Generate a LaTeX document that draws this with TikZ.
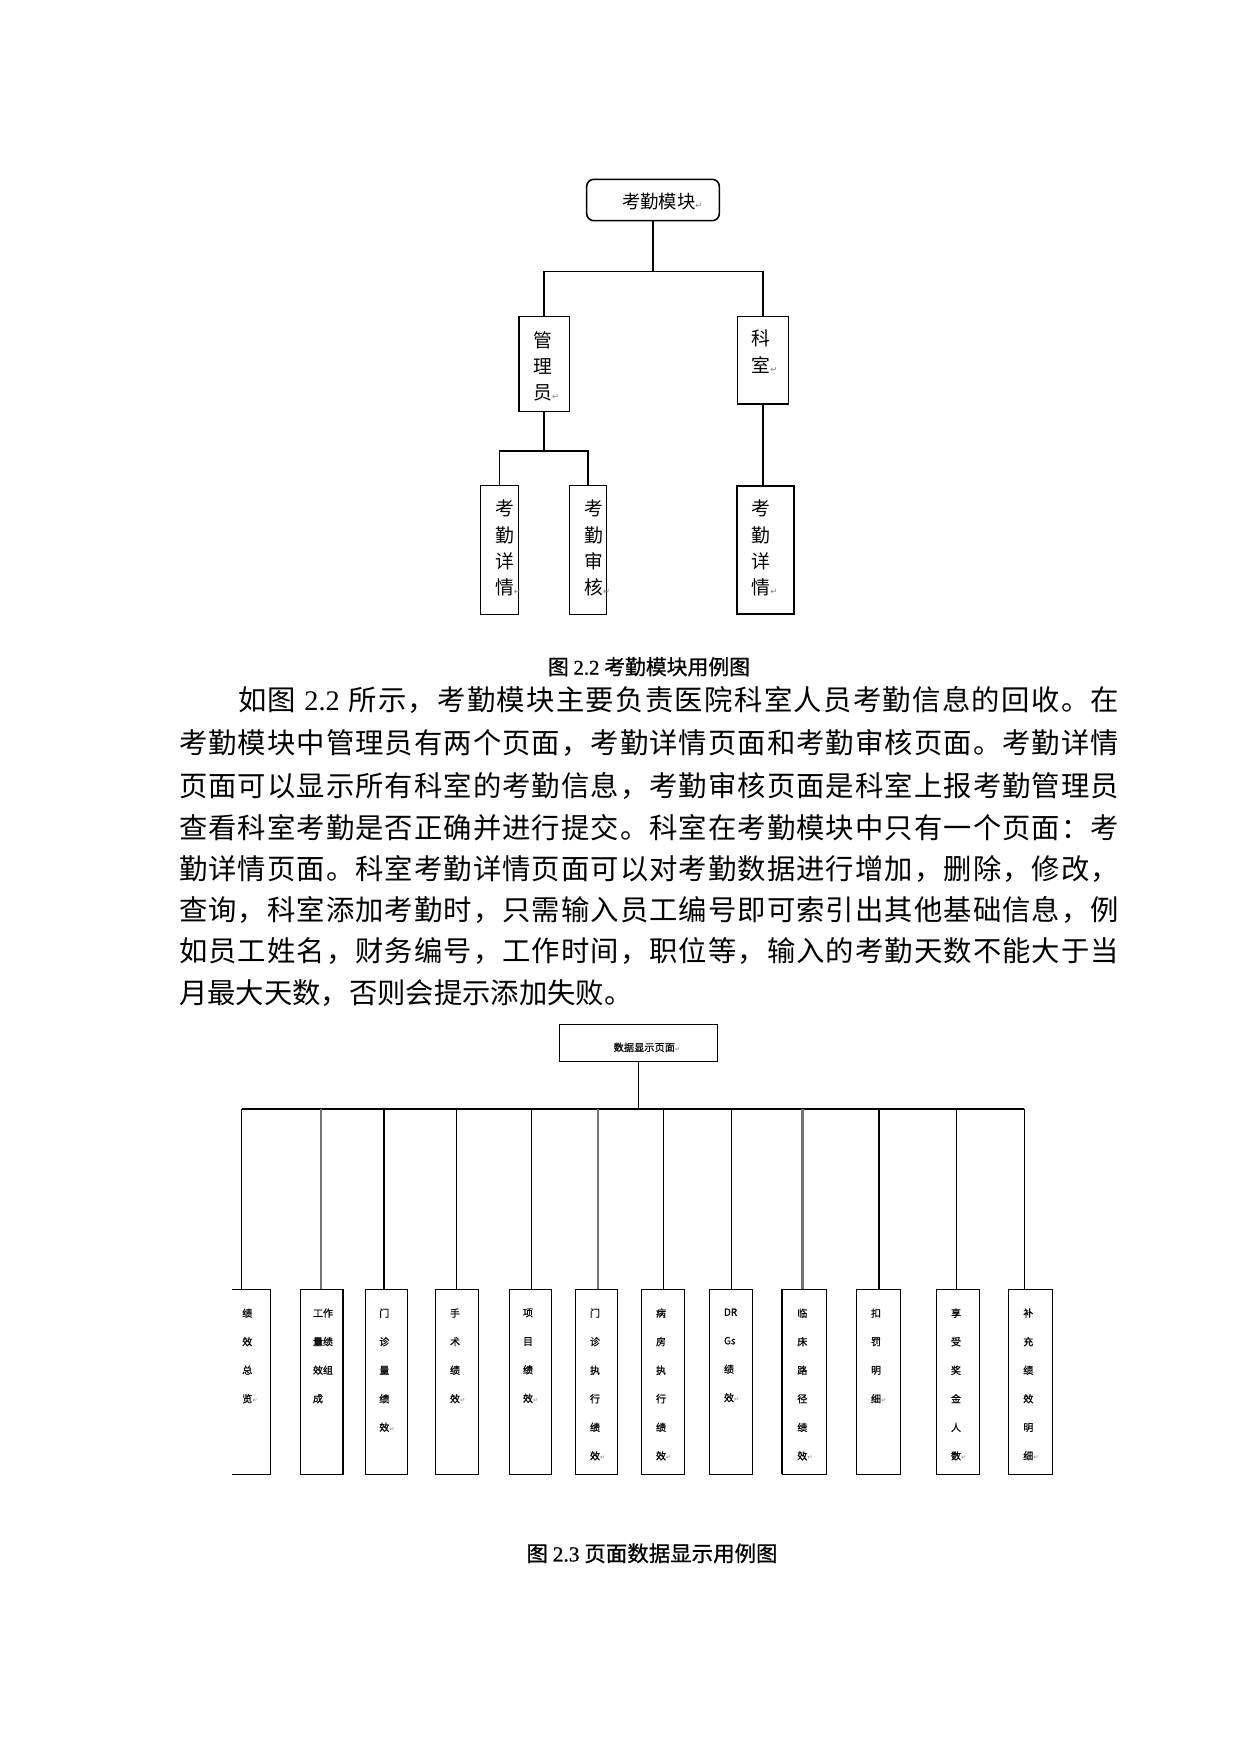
\documentclass[tikz,border=0pt]{standalone}
\usepackage{fontspec}
\setmainfont{Liberation Serif}
\newfontfamily\cjk{Noto Sans CJK SC}
\newfontfamily\cjkc[FakeBold=0.8]{Noto Sans CJK SC}
\newfontfamily\lsr{Liberation Serif}
\newfontfamily\lsrc[FakeBold=0.8]{Liberation Serif}
\newfontfamily\djv{DejaVu Sans}
\makeatletter
\newcommand\spreadto[2]{\hbox to #1{\let\sp@sep\relax\@tfor\sp@t:=#2\do{\sp@sep\sp@t\let\sp@sep\hfil}}}
\makeatother
\newcommand\pmark[1]{{\djv\fontsize{#1}{#1}\selectfont\textcolor{black!50}{↵}}}
\newcommand\mkbox[6][sbox]{\node[#1,minimum width={(#5-#3)*0.48pt},minimum height={(#6-#4)*0.48pt}] (#2) at ({(#3+#5)/2},{(#4+#6)/2}) {};}
\begin{document}
\begin{tikzpicture}[x=0.48pt,y=-0.48pt,
 ln/.style={line width=0.75pt},
 tbox/.style={draw, line width=0.75pt, inner sep=0pt, outer sep=0pt},
 sbox/.style={draw, line width=0.55pt, inner sep=0pt, outer sep=0pt},
 nbox/.style={draw=none, inner sep=0pt, outer sep=0pt},
 sln/.style={line width=0.55pt},
 tkln/.style={line width=1.1pt},
 gyln/.style={line width=1.2pt, draw=black!55},
 busln/.style={line width=1pt},
 vt/.style={inner sep=0pt, outer sep=0pt, anchor=north west, align=left, font=\cjk\fontsize{9}{12.6}\selectfont},
 st/.style={inner sep=0pt, outer sep=0pt, anchor=north west, align=left, font=\cjkc\fontsize{4.8}{13.7}\selectfont},
 body/.style={inner sep=0pt, outer sep=0pt, anchor=west, font=\cjk\fontsize{13.6}{16}\selectfont},
 capt/.style={inner sep=0pt, outer sep=0pt, font=\cjkc\fontsize{10}{12}\selectfont}
]
\useasboundingbox (0,0) rectangle (1240,1754);
\fill[white] (0,0) rectangle (1240,1754);

% ---------------- Figure 2.2 ----------------
\mkbox[tbox,rounded corners=3.4pt]{root}{586.7}{179.3}{719.3}{220.7}
\mkbox[tbox]{adm}{519}{316.7}{569.3}{411.7}
\mkbox[tbox]{ks}{737.3}{316.7}{788.3}{404}
\mkbox[tbox]{la}{480.7}{485.7}{518.7}{614.3}
\mkbox[tbox]{lb}{569.7}{485.7}{606.3}{614.3}
\mkbox[tbox,line width=1pt]{lc}{737.3}{485.7}{794.3}{614.3}

\node[inner sep=0pt,anchor=west,font=\cjk\fontsize{8.8}{10}\selectfont] (troot) at (621.7,201.7) {考勤模块\pmark{4}};
\node[vt] (tadm) at (533.3,331.5) {管\\理\\员\pmark{4}};
\node[vt] (tks) at (751.7,330) {科\\室\pmark{4}};
\node[vt] (tla) at (495,500) {考\\勤\\详\\情\pmark{4}};
\node[vt] (tlb) at (584.3,500) {考\\勤\\审\\核\pmark{4}};
\node[vt] (tlc) at (751.7,500) {考\\勤\\详\\情\pmark{4}};

\coordinate (j1) at (655,271.7);
\coordinate (j2) at (545,451);
\draw[ln] (root.south) -- (root.south |- j1);
\draw[ln] (adm.north) |- (j1) -| (ks.north);
\draw[ln] (adm.south) -- (adm.south |- j2);
\draw[ln] (la.north) |- (j2) -| (lb.north);
\draw[ln] (ks.south) -- (ks.south |- lc.north);

\node[capt] (cap1) at (649,666.7) {图 {\lsrc 2.2} 考勤模块用例图};

% ---------------- Body text ----------------
\node[body] (p1) at (238,700) {\spreadto{422.9pt}{如图{{\lsr~2.2~}}所示，考勤模块主要负责医院科室人员考勤信息的回收。在}};
\node[body] (p2) at (179,743.5) {\spreadto{451.2pt}{考勤模块中管理员有两个页面，考勤详情页面和考勤审核页面。考勤详情}};
\node[body] (p3) at (179,785.5) {\spreadto{451.2pt}{页面可以显示所有科室的考勤信息，考勤审核页面是科室上报考勤管理员}};
\node[body] (p4) at (179,827.3) {\spreadto{451.2pt}{查看科室考勤是否正确并进行提交。科室在考勤模块中只有一个页面：考}};
\node[body] (p5) at (179,868.8) {\spreadto{451.2pt}{勤详情页面。科室考勤详情页面可以对考勤数据进行增加，删除，修改，}};
\node[body] (p6) at (179,910.1) {\spreadto{451.2pt}{查询，科室添加考勤时，只需输入员工编号即可索引出其他基础信息，例}};
\node[body] (p7) at (179,951.5) {\spreadto{451.2pt}{如员工姓名，财务编号，工作时间，职位等，输入的考勤天数不能大于当}};
\node[body] (p8) at (179,992.9) {月最大天数，否则会提示添加失败。};

% ---------------- Figure 2.3 ----------------
\mkbox{top}{559.3}{1024.3}{717.7}{1061.7}
\node[inner sep=0pt,anchor=west,font=\cjkc\fontsize{4.9}{6}\selectfont] (ttop) at (613.3,1047.3) {数据显示页面\pmark{3}};

\mkbox[nbox]{b1}{231.7}{1289.3}{270.3}{1474.3}
\mkbox{b2}{300.3}{1289.3}{343.3}{1474.3}
\mkbox{b3}{365.3}{1289.3}{407.3}{1474.3}
\mkbox{b4}{435.3}{1289.3}{478.7}{1474.3}
\mkbox{b5}{509.3}{1289.3}{551.7}{1474.3}
\mkbox{b6}{575.3}{1289.3}{617.7}{1474.3}
\mkbox{b7}{641.3}{1289.3}{684.3}{1474.3}
\mkbox{b8}{709.3}{1289.3}{752.3}{1474.3}
\mkbox{b9}{782.3}{1289.3}{826.7}{1474.3}
\mkbox{b10}{856.3}{1289.3}{900.3}{1474.3}
\mkbox{b11}{936.3}{1289.3}{979.3}{1474.3}
\mkbox{b12}{1008.7}{1289.3}{1052.7}{1474.3}
\draw[sln] (b1.north west) -- (b1.north east) -- (b1.south east) -- (b1.south west);
\draw[tkln] (b2.north east) -- (b2.south east);
\draw[tkln] (b9.north west) -- (b9.south west);

\coordinate (bl) at (241.5,1108.7);
\coordinate (br) at (1024.3,1108.7);
\draw[busln] (bl) -- (br);
\draw[sln] (top.south) -- (top.south |- bl);

\coordinate (d1) at (241.7,1108.7);
\coordinate (d2) at (321.2,1108.7);
\coordinate (d3) at (384,1108.7);
\coordinate (d4) at (456.3,1108.7);
\coordinate (d5) at (531.3,1108.7);
\coordinate (d6) at (597.8,1108.7);
\coordinate (d7) at (663.3,1108.7);
\coordinate (d8) at (731.5,1108.7);
\coordinate (d9) at (802.5,1108.7);
\coordinate (d10) at (879,1108.7);
\coordinate (d11) at (956.3,1108.7);
\coordinate (d12) at (1024.3,1108.7);
\draw[sln] (d1) -- (d1 |- b1.north);
\draw[gyln] (d2) -- (d2 |- b2.north);
\draw[tkln] (d3) -- (d3 |- b3.north);
\draw[sln] (d4) -- (d4 |- b4.north);
\draw[sln] (d5) -- (d5 |- b5.north);
\draw[gyln] (d6) -- (d6 |- b6.north);
\draw[sln] (d7) -- (d7 |- b7.north);
\draw[sln] (d8) -- (d8 |- b8.north);
\draw[gyln] (d9) -- (d9 |- b9.north);
\draw[tkln] (d10) -- (d10 |- b10.north);
\draw[sln] (d11) -- (d11 |- b11.north);
\draw[sln] (d12) -- (d12 |- b12.north);

\node[st] (s1) at (242.3,1308.5) {绩\\效\\总\\览\pmark{3}};
\node[st] (s2) at (313,1308.5) {工作\\量绩\\效组\\成};
\node[st] (s3) at (379.3,1308.5) {门\\诊\\量\\绩\\效\pmark{3}};
\node[st] (s4) at (450,1308.5) {手\\术\\绩\\效\pmark{3}};
\node[st] (s5) at (523,1308.5) {项\\目\\绩\\效\pmark{3}};
\node[st] (s6) at (590,1308.5) {门\\诊\\执\\行\\绩\\效\pmark{3}};
\node[st] (s7) at (656,1308.5) {病\\房\\执\\行\\绩\\效\pmark{3}};
\node[st] (s8) at (724,1308.5) {DR\\Gs\\绩\\效\pmark{3}};
\node[st] (s9) at (797.3,1308.5) {临\\床\\路\\径\\绩\\效\pmark{3}};
\node[st] (s10) at (871,1308.5) {扣\\罚\\明\\细\pmark{3}};
\node[st] (s11) at (951,1308.5) {享\\受\\奖\\金\\人\\数\pmark{3}};
\node[st] (s12) at (1023.3,1308.5) {补\\充\\绩\\效\\明\\细\pmark{3}};

\node[capt,font=\cjkc\fontsize{10.3}{12}\selectfont] (cap2) at (652,1553.3) {图 {\lsrc 2.3} 页面数据显示用例图};
\end{tikzpicture}
\end{document}
